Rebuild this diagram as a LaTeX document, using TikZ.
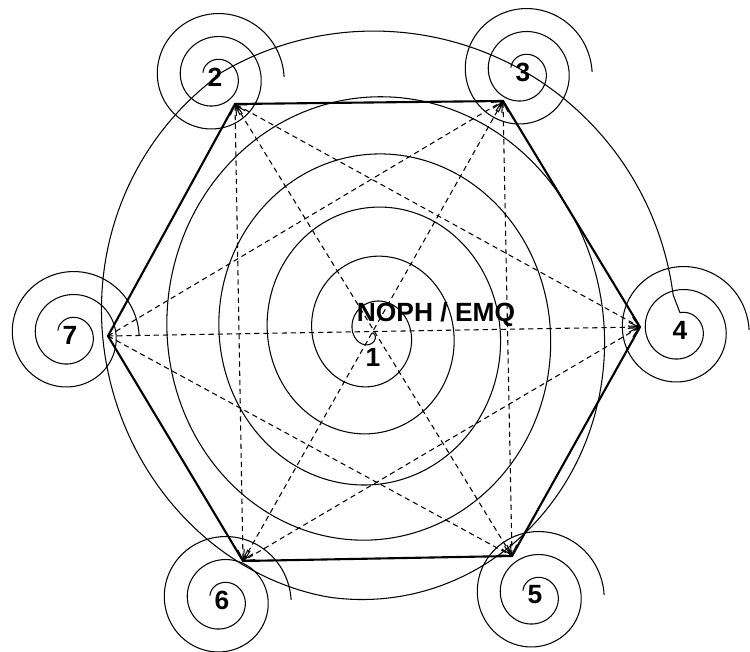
\documentclass[tikz,border=0pt]{standalone}
\usepackage{fontspec}
\setmainfont{Liberation Sans}
\usetikzlibrary{arrows.meta}

\begin{document}
\begin{tikzpicture}[
        x=0.02cm, y=-0.02cm,
        every node/.style={font=\fontsize{15}{17}\selectfont\bfseries, inner sep=1pt},
        thinline/.style={line width=0.6pt},
        hexedge/.style={line width=1.2pt, line join=miter},
        diag/.style={line width=0.6pt, dash pattern=on 3pt off 2.2pt},
        arrow/.style={diag, -{Straight Barb[length=2mm, width=2mm]}},
        twoway/.style={diag, {Straight Barb[length=2mm, width=2mm]}-{Straight Barb[length=2mm, width=2mm]}},
        declare function={
            ramp(\s)=max(0,(\s-1860)/180);
            mainr(\s)=103.4*(\s/1000)+14.29*(\s/1000)*(\s/1000)+30*ramp(\s)*ramp(\s)*ramp(\s);
            vfac(\s)=1.08-0.08*min(1,max(0,(\s-1900)/138.5));
            coilr(\s)=0.064*\s;
        }
    ]
        \useasboundingbox (0,0) rectangle (750,652);
        % hexagon corners
        \coordinate (c2) at (235,104);
        \coordinate (c3) at (503,101);
        \coordinate (c4) at (640,327);
        \coordinate (c5) at (512,556);
        \coordinate (c6) at (243,561);
        \coordinate (c7) at (108,336);
        % numbered points
        \node (n1) at (373,357) {1};
        \node (title) at (436,315) {NOPH / EMQ};
        \node (n2) at (215,77) {2};
        \node (n3) at (523,72) {3};
        \node (n4) at (680,330) {4};
        \node (n5) at (535,595) {5};
        \node (n6) at (222,600) {6};
        \node (n7) at (70,335) {7};
        \path (n4) ++(0,-17.3) coordinate (n4in);
        % central spiral out to 2, then on over 3 to 4
        \draw[thinline] plot[domain=0:2038.5, samples=1100, variable=\s]
            ({372+mainr(\s)*cos(\s)}, {333+vfac(\s)*mainr(\s)*sin(\s)});
        \draw[thinline] plot[domain=238.5:353, samples=150, variable=\a]
            ({372+(300+0.03*(\a-238.5))*cos(\a)}, {332+(300+0.03*(\a-238.5))*sin(\a)}) -- (n4in);
        % small spirals
        \draw[thinline, shift={(n2)}] plot[domain=200:1080, samples=260, variable=\s] ({coilr(\s)*cos(\s)}, {coilr(\s)*sin(\s)});
        \draw[thinline, shift={(n3)}] plot[domain=200:1080, samples=260, variable=\s] ({coilr(\s)*cos(\s)}, {coilr(\s)*sin(\s)});
        \draw[thinline, shift={(n4)}] plot[domain=270:1080, samples=240, variable=\s] ({coilr(\s)*cos(\s)}, {coilr(\s)*sin(\s)});
        \draw[thinline, shift={(n5)}] plot[domain=200:1080, samples=260, variable=\s] ({coilr(\s)*cos(\s)}, {coilr(\s)*sin(\s)});
        \draw[thinline, shift={(n6)}] plot[domain=200:1080, samples=260, variable=\s] ({coilr(\s)*cos(\s)}, {coilr(\s)*sin(\s)});
        \draw[thinline, shift={(n7)}] plot[domain=200:1080, samples=260, variable=\s] ({coilr(\s)*cos(\s)}, {coilr(\s)*sin(\s)});
        % hexagon
        \draw[hexedge] (c2) -- (c3) -- (c4) -- (c5) -- (c6) -- (c7) -- cycle;
        % diagonals
        \draw[arrow] (c7) -- (c3);
        \draw[arrow] (c7) -- (c4);
        \draw[arrow] (c7) -- (c5);
        \draw[twoway] (c2) -- (c6);
        \draw[twoway] (c2) -- (c4);
        \draw[twoway] (c2) -- (c5);
        \draw[twoway] (c3) -- (c5);
        \draw[twoway] (c3) -- (c6);
        \draw[twoway] (c4) -- (c6);
    \end{tikzpicture}
\end{document}
